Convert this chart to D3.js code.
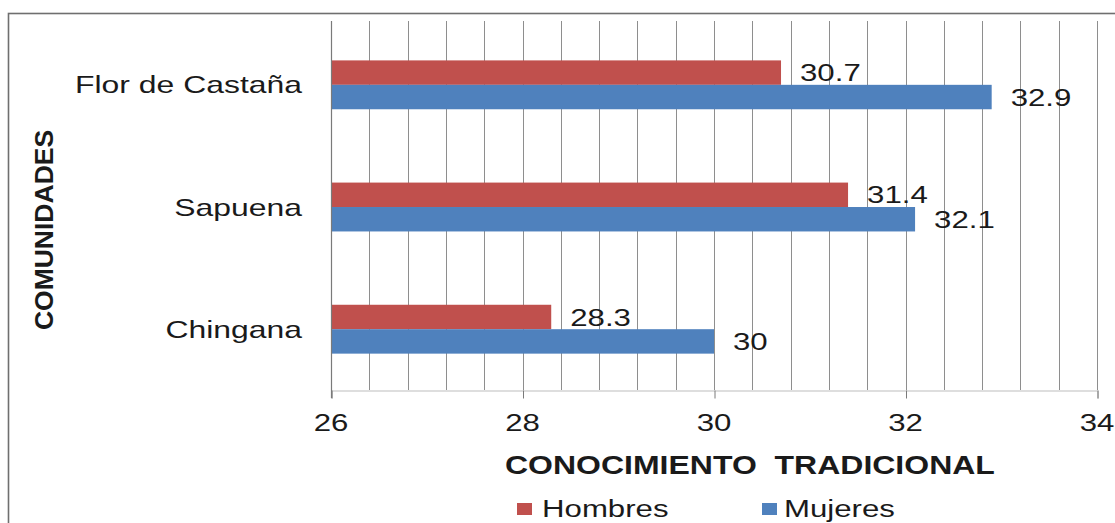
<!DOCTYPE html>
<html>
<head>
<meta charset="utf-8">
<script src="https://cdn.jsdelivr.net/npm/d3@7"></script>
<style>
  html, body { margin: 0; padding: 0; background: #fff; }
  svg { display: block; }
  text { font-family: "Liberation Sans", Arial, sans-serif; fill: #1a1a1a; }
</style>
</head>
<body>
<svg id="chart" width="1115" height="523"></svg>
<script>
// Community knowledge scores by sex
const categories = ["Flor de Castaña", "Sapuena", "Chingana"];
const seriesNames = ["Hombres", "Mujeres"];
const hombres = [30.7, 31.4, 28.3];
const mujeres = [32.9, 32.1, 30];
const xTickValues = [26, 28, 30, 32, 34];
const xDomain = [26, 34];
const gridStep = 0.4;
const xTitle = "CONOCIMIENTO  TRADICIONAL";
const yTitle = "COMUNIDADES";

const colors = { Hombres: "#C0504D", Mujeres: "#4F81BD" };
const series = [
  { name: seriesNames[0], values: hombres },
  { name: seriesNames[1], values: mujeres }
];

const W = 1115, H = 523;
const plot = { left: 331, right: 1097, top: 21, bottom: 390 };
const STRETCH = 1.3;      // horizontal widening applied to horizontal labels

const svg = d3.select("#chart");

// outer frame
svg.append("rect")
  .attr("x", 8.5).attr("y", 13.5)
  .attr("width", W + 20).attr("height", H + 20)
  .attr("fill", "none").attr("stroke", "#6f6f6f").attr("stroke-width", 1.6);

const x = d3.scaleLinear().domain(xDomain).range([plot.left, plot.right]);

const y = d3.scaleBand()
  .domain(categories)
  .range([plot.top, plot.bottom])
  .paddingInner(0.6)
  .paddingOuter(0.31)
  .align(0.52);

const ySub = d3.scaleBand()
  .domain(seriesNames)
  .range([0, y.bandwidth()])
  .padding(0);

// vertical gridlines every 0.4
const nGrid = Math.round((xDomain[1] - xDomain[0]) / gridStep);
const gridVals = d3.range(nGrid + 1).map(i => xDomain[0] + i * gridStep);
svg.append("g").selectAll("line")
  .data(gridVals.slice(1))
  .join("line")
  .attr("x1", d => Math.round(x(d)) + 0.5)
  .attr("x2", d => Math.round(x(d)) + 0.5)
  .attr("y1", plot.top)
  .attr("y2", plot.bottom)
  .attr("stroke", "#8e8e8e")
  .attr("stroke-width", 1);

// bottom axis with labelled ticks every 2
const xAxis = d3.axisBottom(x)
  .tickValues(xTickValues)
  .tickSize(8)
  .tickFormat(d3.format("d"));

const gx = svg.append("g")
  .attr("transform", `translate(0.5,${plot.bottom + 0.5})`)
  .call(xAxis);
gx.select(".domain").attr("stroke", "#bdbdbd").attr("stroke-width", 1.2);
gx.selectAll(".tick line").attr("stroke", "#7a7a7a");
gx.selectAll(".tick text").remove();

// tick labels, widened
svg.append("g").selectAll("text")
  .data(xTickValues)
  .join("text")
  .attr("transform", d => `translate(${x(d)},${431}) scale(${STRETCH},1)`)
  .attr("text-anchor", "middle")
  .attr("font-size", 24)
  .text(d => d);

// bars
const groups = svg.append("g").selectAll("g")
  .data(series)
  .join("g")
  .attr("fill", d => colors[d.name]);

groups.selectAll("rect")
  .data(s => s.values.map((v, i) => ({ name: s.name, cat: categories[i], value: v })))
  .join("rect")
  .attr("x", x(xDomain[0]))
  .attr("y", d => y(d.cat) + ySub(d.name))
  .attr("width", d => x(d.value) - x(xDomain[0]))
  .attr("height", ySub.bandwidth());

// left axis line
svg.append("line")
  .attr("x1", plot.left + 0.5).attr("x2", plot.left + 0.5)
  .attr("y1", plot.top).attr("y2", plot.bottom + 8)
  .attr("stroke", "#7a7a7a").attr("stroke-width", 1.2);

// value labels
groups.selectAll("text")
  .data(s => s.values.map((v, i) => ({ name: s.name, cat: categories[i], value: v })))
  .join("text")
  .attr("transform", d => {
    const cy = y(d.cat) + ySub(d.name) + ySub.bandwidth() / 2;
    return `translate(${x(d.value) + 19},${cy + 8.6}) scale(${STRETCH},1)`;
  })
  .attr("font-size", 24)
  .style("fill", "#1a1a1a")
  .text(d => String(d.value));

// category labels
svg.append("g").selectAll("text")
  .data(categories)
  .join("text")
  .attr("transform", d => `translate(302,${y(d) + y.bandwidth() / 2 + 8.6}) scale(1.33,1)`)
  .attr("text-anchor", "end")
  .attr("font-size", 24)
  .text(d => d);

// axis titles
svg.append("text")
  .attr("transform", `translate(505,474) scale(1.28,1)`)
  .attr("font-size", 25)
  .attr("font-weight", "bold")
  .style("white-space", "pre")
  .text(xTitle);

svg.append("text")
  .attr("transform", `translate(53,230) rotate(-90)`)
  .attr("text-anchor", "middle")
  .attr("font-size", 26.5)
  .attr("font-weight", "bold")
  .text(yTitle);

// legend
const legendX = [517, 762];
const legend = svg.append("g").selectAll("g")
  .data(seriesNames)
  .join("g")
  .attr("transform", (d, i) => `translate(${legendX[i]},0)`);
legend.append("rect")
  .attr("x", 0).attr("y", 503)
  .attr("width", 15).attr("height", 12)
  .attr("fill", d => colors[d]);
legend.append("text")
  .attr("transform", (d, i) => `translate(${i === 0 ? 25 : 22},517) scale(${STRETCH},1)`)
  .attr("font-size", 24)
  .text(d => d);
</script>
</body>
</html>
